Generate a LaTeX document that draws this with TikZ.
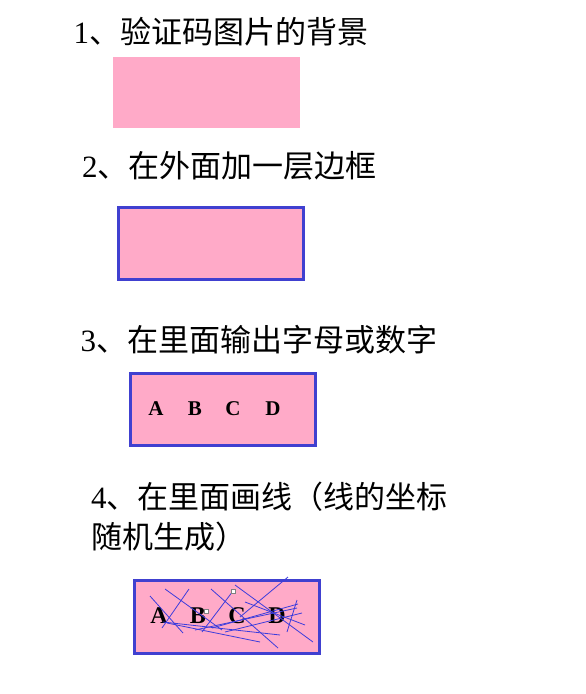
\documentclass[tikz,border=0pt]{standalone}
\usepackage{fontspec}
\setmainfont{Liberation Serif}
\newfontfamily\cjk{Noto Sans CJK SC}
\definecolor{bgpink}{RGB}{255,170,200}
\definecolor{frameblue}{RGB}{64,64,208}
\definecolor{lineblue}{RGB}{60,60,220}
\begin{document}
\begin{tikzpicture}[x=1pt,y=-1pt,
  title/.style={anchor=base west,inner sep=0pt,font=\fontsize{31}{31}\selectfont},
  plainbox/.style={fill=bgpink,anchor=north west,inner sep=0pt},
  framed/.style={fill=bgpink,draw=frameblue,line width=3pt,anchor=north west,inner sep=0pt},
  lettera/.style={font=\bfseries\fontsize{21}{21}\selectfont,inner sep=0pt},
  letterb/.style={font=\bfseries\fontsize{24}{24}\selectfont,inner sep=0pt},
  noise/.style={draw=lineblue,line width=0.8pt},
  marker/.style={draw=gray,fill=white,line width=0.6pt,minimum size=4pt,inner sep=0pt}]
\useasboundingbox[fill=white] (0,0) rectangle (586,694);

% step 1
\node[title] (t1) at (73.5,43) {1\cjk 、验证码图片的背景};
\node[plainbox,minimum width=187pt,minimum height=71pt] (b1) at (113,57) {};

% step 2
\node[title] (t2) at (82,177) {2\cjk 、在外面加一层边框};
\node[framed,minimum width=185pt,minimum height=72pt] (b2) at (117,206) {};

% step 3
\node[title] (t3) at (80.5,351) {3\cjk 、在里面输出字母或数字};
\node[framed,minimum width=185pt,minimum height=72pt] (b3) at (129,372) {};
\node[lettera] (a3) at (156,409) {A};
\node[lettera] (bb3) at (195,409) {B};
\node[lettera] (c3) at (233,409) {C};
\node[lettera] (d3) at (273,409) {D};

% step 4
\node[title] (t4a) at (91,508) {4\cjk 、在里面画线（线的坐标};
\node[title] (t4b) at (91,548) {\cjk 随机生成）};
\node[framed,minimum width=185pt,minimum height=73pt] (b4) at (133,579) {};
\node[letterb] (a4) at (159,616) {A};
\node[letterb] (bb4) at (198,616) {B};
\node[letterb] (c4) at (237,616) {C};
\node[letterb] (d4) at (277,616) {D};

\draw[noise] (150,596) -- (183,633);
\draw[noise] (189,589) -- (162,628);
\draw[noise] (165,589) -- (222,630);
\draw[noise] (233,591) -- (202,632);
\draw[noise] (288,577) -- (240,617);
\draw[noise] (211,589) -- (278,648);
\draw[noise] (235,585) -- (313,642);
\draw[noise] (245,602) -- (305,625);
\draw[noise] (297,600) -- (287,632);
\draw[noise] (163,622) -- (280,635);
\draw[noise] (167,623) -- (260,642);
\draw[noise] (195,630) -- (297,608);
\draw[noise] (212,628) -- (298,604);
\draw[noise] (225,632) -- (302,613);

\node[marker] (m1) at (233,591) {};
\node[marker] (m2) at (206,611) {};
\end{tikzpicture}
\end{document}
